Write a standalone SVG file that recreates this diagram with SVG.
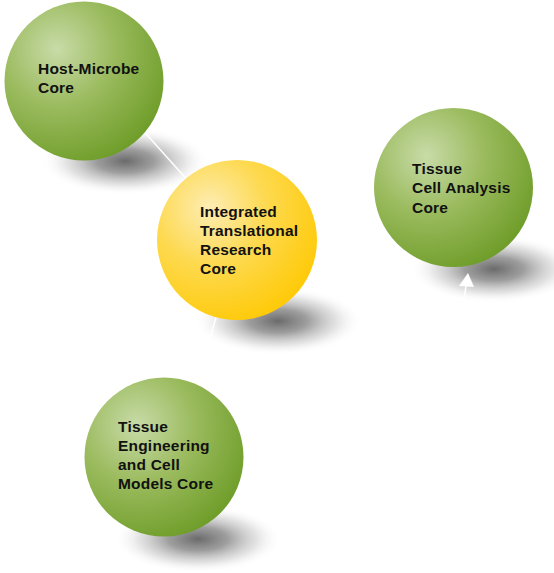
<svg xmlns="http://www.w3.org/2000/svg" width="554" height="573" viewBox="0 0 554 573">
<defs>
<radialGradient id="green" cx="0.33" cy="0.3" r="0.8" fx="0.33" fy="0.3">
<stop offset="0" stop-color="#c8dba8"/>
<stop offset="0.45" stop-color="#9bbb5e"/>
<stop offset="1" stop-color="#6a9a24"/>
</radialGradient>
<radialGradient id="yellow" cx="0.33" cy="0.3" r="0.8" fx="0.33" fy="0.3">
<stop offset="0" stop-color="#fdedb4"/>
<stop offset="0.45" stop-color="#fdd94e"/>
<stop offset="1" stop-color="#ffc800"/>
</radialGradient>
<radialGradient id="shadow" cx="0.5" cy="0.5" r="0.5">
<stop offset="0" stop-color="#5a5a5a" stop-opacity="0.9"/>
<stop offset="0.35" stop-color="#747474" stop-opacity="0.7"/>
<stop offset="0.7" stop-color="#aaaaaa" stop-opacity="0.33"/>
<stop offset="1" stop-color="#ffffff" stop-opacity="0"/>
</radialGradient>
</defs>
<style>
.lbl{font-family:"Liberation Sans",Arial,sans-serif;font-weight:bold;font-size:15.5px;letter-spacing:0.2px;fill:#111}
.conn{stroke:#ffffff;stroke-width:1.5;fill:none}
.sh{fill:url(#shadow)}
</style>
<rect width="554" height="573" fill="#ffffff"/>
<g id="shadows">
<ellipse class="sh" cx="125" cy="161" rx="84" ry="34"/>
<ellipse class="sh" cx="278" cy="321" rx="84" ry="34"/>
<ellipse class="sh" cx="494" cy="269" rx="84" ry="34"/>
<ellipse class="sh" cx="198" cy="539" rx="84" ry="34"/>
</g>
<g id="connectors">
<line class="conn" x1="140" y1="127" x2="190" y2="183"/>
<line class="conn" x1="218" y1="310" x2="197" y2="386"/>
<line class="conn" x1="458" y1="340" x2="466" y2="286"/>
<polygon points="468,273 459,286 474,287" fill="#ffffff"/>
</g>
<g id="host-microbe">
<circle cx="84" cy="81" r="79.5" fill="url(#green)"/>
<text class="lbl" x="38" y="74">Host-Microbe</text>
<text class="lbl" x="38" y="93">Core</text>
</g>
<g id="integrated">
<circle cx="237" cy="240" r="80" fill="url(#yellow)"/>
<text class="lbl" x="200" y="217">Integrated</text>
<text class="lbl" x="200" y="236">Translational</text>
<text class="lbl" x="200" y="255">Research</text>
<text class="lbl" x="200" y="274">Core</text>
</g>
<g id="tissue-cell-analysis">
<circle cx="453.5" cy="187.5" r="79.5" fill="url(#green)"/>
<text class="lbl" x="412" y="174">Tissue</text>
<text class="lbl" x="412" y="193">Cell Analysis</text>
<text class="lbl" x="412" y="213">Core</text>
</g>
<g id="tissue-engineering">
<circle cx="164" cy="457" r="79.5" fill="url(#green)"/>
<text class="lbl" x="118" y="432">Tissue</text>
<text class="lbl" x="118" y="451">Engineering</text>
<text class="lbl" x="118" y="470">and Cell</text>
<text class="lbl" x="118" y="489">Models Core</text>
</g>
</svg>
